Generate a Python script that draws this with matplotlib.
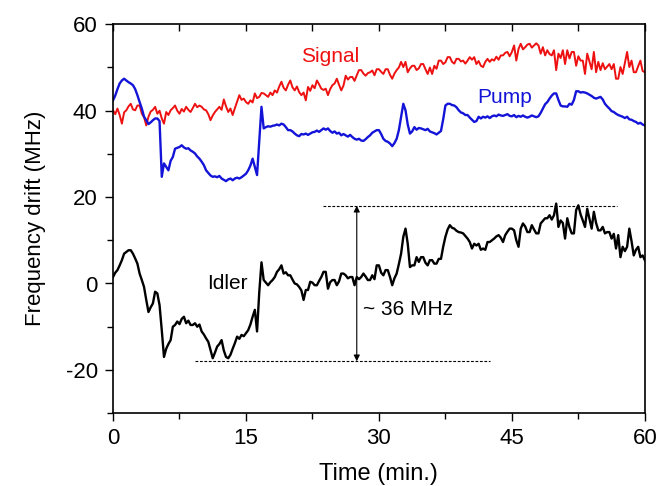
import matplotlib
matplotlib.use("Agg")
import numpy as np
from matplotlib import pyplot as plt
from matplotlib.ticker import MultipleLocator

plt.rcParams['font.family'] = ['Liberation Sans', 'DejaVu Sans']
plt.rcParams['axes.unicode_minus'] = False

# sample times (min.), one reading every 15 s
time_min = np.linspace(0, 60, 241)

# frequency drift (MHz), four readings per row = one minute
signal_mhz = [
    40.1, 39.2, 40.5, 39.0,   37.0, 39.6, 40.1, 41.0,   41.6, 40.3, 40.1, 41.2,
    41.2, 39.3, 38.5, 36.6,   38.6, 39.8, 40.2, 40.9,   39.3, 40.0, 38.2, 37.0,
    39.7, 39.0, 40.1, 40.6,   41.2, 40.0, 39.3, 40.4,   39.8, 40.9, 40.2, 39.7,
    40.6, 41.6, 40.8, 41.2,   40.9, 40.3, 40.1, 39.2,   37.8, 38.9, 39.7, 40.3,
    40.9, 40.2, 42.6, 41.0,   39.7, 40.5, 39.0, 40.6,   42.1, 43.6, 42.5, 42.8,
    42.0, 41.6, 42.4, 41.9,   44.0, 42.9, 43.2, 44.1,   44.0, 43.6, 43.2, 44.2,
    43.6, 44.7, 44.2, 45.6,   46.7, 45.3, 44.7, 46.0,   47.0, 45.4, 44.7, 45.6,
    44.3, 43.6, 44.2, 42.4,   45.5, 44.6, 45.9, 45.2,   47.0, 46.1, 45.1, 44.8,
    45.1, 43.6, 45.0, 45.9,   46.3, 47.4, 46.0, 44.7,   45.8, 48.1, 47.2, 47.8,
    47.8, 46.9, 48.2, 49.4,   49.4, 48.6, 48.1, 48.7,   48.9, 49.3, 48.2, 49.6,
    49.6, 49.0, 48.5, 49.6,   49.6, 48.3, 47.4, 48.6,   49.4, 50.0, 51.3, 50.1,
    51.3, 48.9, 49.8, 50.4,   50.4, 49.4, 49.8, 50.8,   50.8, 49.6, 48.5, 50.0,
    48.5, 50.4, 49.7, 51.6,   51.6, 50.8, 51.2, 52.4,   52.4, 51.3, 50.9, 52.0,
    52.0, 51.4, 51.6, 50.9,   51.6, 52.4, 51.8, 52.4,   50.8, 51.5, 50.4, 50.1,
    51.3, 52.0, 51.3, 51.9,   51.6, 52.5, 51.8, 52.8,   52.8, 53.4, 53.6, 52.6,
    53.6, 55.1, 51.6, 54.3,   55.5, 54.2, 54.7, 55.3,   55.5, 54.6, 55.1, 55.6,
    55.1, 53.2, 54.7, 52.8,   54.0, 53.1, 52.8, 54.0,   49.4, 53.2, 52.2, 54.0,
    50.8, 54.0, 52.1, 53.6,   53.6, 50.4, 52.6, 51.6,   51.6, 48.5, 53.2, 51.4,
    49.6, 53.6, 48.9, 51.3,   49.4, 51.0, 49.6, 50.2,   50.8, 49.6, 50.8, 47.4,
    47.4, 50.1, 48.5, 51.0,   53.6, 50.1, 51.6, 48.9,   48.9, 50.3, 51.6, 49.2,
    48.9]

pump_mhz = [
    42.4, 43.5, 45.0, 46.3,   47.0, 47.4, 47.0, 46.6,   46.3, 45.9, 45.0, 43.6,
    42.0, 40.5, 38.6, 37.8,   36.9, 37.3, 37.8, 38.2,   38.2, 37.6, 24.7, 27.8,
    27.0, 26.2, 28.4, 29.3,   31.2, 31.4, 31.6, 32.0,   31.5, 31.2, 31.3, 30.8,
    30.5, 30.1, 29.4, 28.9,   28.2, 27.4, 26.2, 25.6,   25.0, 24.7, 24.8, 24.6,
    24.9, 24.3, 24.0, 23.7,   24.1, 24.3, 23.9, 24.3,   24.5, 24.3, 24.6, 25.0,
    25.4, 26.2, 27.3, 28.9,   27.0, 25.1, 33.0, 40.9,   35.9, 36.2, 36.4, 36.3,
    36.5, 36.6, 36.8, 36.6,   37.0, 36.8, 36.2, 35.5,   35.5, 35.2, 34.7, 34.3,
    34.1, 34.6, 34.5, 34.7,   34.4, 34.7, 35.0, 35.1,   35.4, 35.1, 35.5, 35.9,
    35.6, 35.9, 35.3, 34.9,   35.2, 34.7, 34.9, 34.3,   34.6, 34.3, 34.0, 34.4,
    33.9, 33.5, 33.3, 33.5,   33.1, 33.0, 33.4, 33.9,   34.3, 34.9, 35.2, 35.5,
    35.5, 34.6, 33.5, 33.0,   32.8, 32.4, 31.8, 32.5,   33.5, 35.5, 38.6, 41.6,
    40.1, 36.8, 34.7, 35.2,   36.2, 35.6, 36.0, 35.9,   35.7, 35.5, 35.8, 35.2,
    35.0, 34.8, 34.5, 34.9,   35.3, 38.0, 41.2, 41.6,   41.6, 41.3, 41.2, 40.8,
    40.1, 39.6, 39.4, 39.0,   39.0, 38.4, 37.9, 37.4,   37.6, 38.6, 38.2, 38.6,
    38.4, 38.7, 38.3, 38.7,   38.9, 38.7, 39.1, 38.9,   38.8, 39.0, 39.2, 38.8,
    38.7, 39.0, 38.5, 38.8,   38.6, 38.9, 38.6, 38.4,   38.6, 38.9, 38.7, 38.5,
    38.7, 39.5, 40.5, 41.5,   42.0, 42.8, 43.5, 44.0,   44.0, 42.5, 41.2, 41.0,
    41.0, 40.9, 41.6, 41.4,   42.5, 44.5, 44.5, 44.2,   44.3, 44.2, 44.0, 43.7,
    43.4, 43.0, 42.8, 43.0,   43.2, 42.6, 41.6, 41.0,   40.5, 39.9, 39.7, 39.3,
    39.0, 38.8, 38.6, 38.3,   38.6, 38.0, 37.9, 37.6,   37.4, 37.0, 37.2, 36.8,
    36.6]

idler_mhz = [
    1.5, 2.5, 3.1, 4.2,       5.4, 6.9, 7.3, 7.7,       7.7, 6.9, 5.8, 4.6,
    2.3, 0.8, -0.8, -3.8,     -6.6, -5.5, -4.6, -1.9,   -2.3, -5.0, -10.8, -17.0,
    -15.1, -14.0, -13.1, -10.0, -9.6, -8.8, -9.4, -8.2, -7.7, -9.2, -8.6, -9.6,
    -9.6, -9.2, -10.0, -9.5,  -11.1, -11.8, -12.7, -13.5, -15.4, -17.3, -16.0, -14.6,
    -14.0, -13.1, -15.5, -17.0, -17.3, -16.5, -15.1, -13.8, -12.3, -12.8, -11.9, -12.2,
    -11.5, -10.8, -9.5, -7.7, -6.1, -11.1, -2.0, 4.9,   0.8, 0.2, -0.4, 0.3,
    0.8, 1.5, 2.7, 3.3,       4.2, 2.3, 2.6, 1.9,       1.9, 0.9, 0.0, -0.2,
    -0.8, -1.6, -3.8, -1.5,   -1.5, 0.4, 0.2, -0.4,     -0.4, 0.6, 1.5, 2.7,
    2.7, -1.2, 0.3, 0.8,      0.8, -0.4, 0.5, 2.3,      2.3, 1.9, 1.2, 1.5,
    1.5, -0.4, 1.5, 1.0,      1.5, 2.3, 1.6, 0.8,       0.8, 1.9, 1.0, 4.2,
    4.2, 2.5, 1.9, 3.1,       3.1, 1.5, -0.4, 1.2,      2.3, 4.5, 6.9, 10.8,
    12.7, 9.2, 3.8, 4.2,      4.2, 6.1, 5.0, 6.1,       6.1, 4.8, 4.2, 5.4,
    5.4, 4.6, 4.6, 5.7,       5.7, 8.5, 10.8, 12.5,     13.5, 12.9, 12.7, 12.2,
    11.9, 11.8, 11.6, 11.0,   10.4, 9.6, 8.1, 9.2,      8.8, 9.2, 7.8, 8.1,
    7.8, 9.6, 9.6, 10.0,      10.4, 10.9, 11.2, 10.6,   9.6, 11.2, 12.0, 12.7,
    12.7, 12.3, 10.0, 8.5,    12.7, 13.9, 13.2, 11.9,   11.9, 13.5, 12.5, 11.6,
    11.6, 13.9, 14.5, 15.1,   15.1, 15.8, 14.8, 15.8,   18.5, 13.1, 14.6, 14.0,
    10.4, 15.1, 13.0, 11.6,   11.6, 17.0, 18.1, 16.0,   14.6, 13.1, 17.3, 15.0,
    12.7, 16.6, 14.0, 12.3,   12.3, 13.1, 11.6, 11.9,   11.9, 10.4, 11.5, 8.1,
    11.2, 6.1, 8.5, 7.5,      8.5, 12.7, 9.8, 6.5,      7.8, 8.5, 6.1, 6.5,
    5.4]

red = '#ee1111'
blue = '#1414d8'

fig = plt.figure(figsize=(6.59, 4.86), dpi=100)
ax = fig.add_axes([0.1715, 0.150, 0.807, 0.800])

ax.plot(time_min, signal_mhz, color=red, lw=1.4)
ax.plot(time_min, pump_mhz, color=blue, lw=1.7)
ax.plot(time_min, idler_mhz, color='black', lw=1.7)

# +-18 MHz guide lines with the double arrow between them
ax.plot([23.7, 56.9], [18, 18], color='black', lw=0.8, ls=(0, (2.5, 1.5)))
ax.plot([9.2, 42.5], [-18, -18], color='black', lw=0.8, ls=(0, (2.5, 1.5)))
ax.annotate('', xy=(27.5, 18), xytext=(27.5, -18),
            arrowprops=dict(arrowstyle='<|-|>', color='black', lw=0.8,
                            mutation_scale=9, shrinkA=0, shrinkB=0))

ax.text(24.5, 52.6, 'Signal', color=red, fontsize=15, ha='center', va='center')
ax.text(44.2, 43.1, 'Pump', color=blue, fontsize=15, ha='center', va='center')
ax.text(12.9, 0.0, 'Idler', color='black', fontsize=15, ha='center', va='center')
ax.text(28.2, -6.1, '~ 36 MHz', color='black', fontsize=15, ha='left', va='center')

ax.set_xlim(0, 60)
ax.set_ylim(-30, 60)
ax.xaxis.set_major_locator(MultipleLocator(15))
ax.xaxis.set_minor_locator(MultipleLocator(7.5))
ax.yaxis.set_major_locator(MultipleLocator(20))
ax.yaxis.set_minor_locator(MultipleLocator(10))
ax.tick_params(axis='both', which='both', direction='out', right=False,
               labelsize=16, width=1.0, pad=5)
ax.tick_params(which='major', length=6)
ax.tick_params(which='minor', length=4)
# top edge carries short inward ticks only
ax.tick_params(axis='x', which='both', top=True)
for tk in ax.xaxis.get_major_ticks() + ax.xaxis.get_minor_ticks():
    tk.tick2line.set_marker(3)
    tk.tick2line.set_markersize(5)
for side in ['left', 'right', 'top', 'bottom']:
    ax.spines[side].set_linewidth(1.2)

ax.set_xlabel('Time (min.)', fontsize=17, labelpad=10)
ax.set_ylabel('Frequency drift (MHz)', fontsize=16, labelpad=14)

fig.savefig('out.png', dpi=100)
